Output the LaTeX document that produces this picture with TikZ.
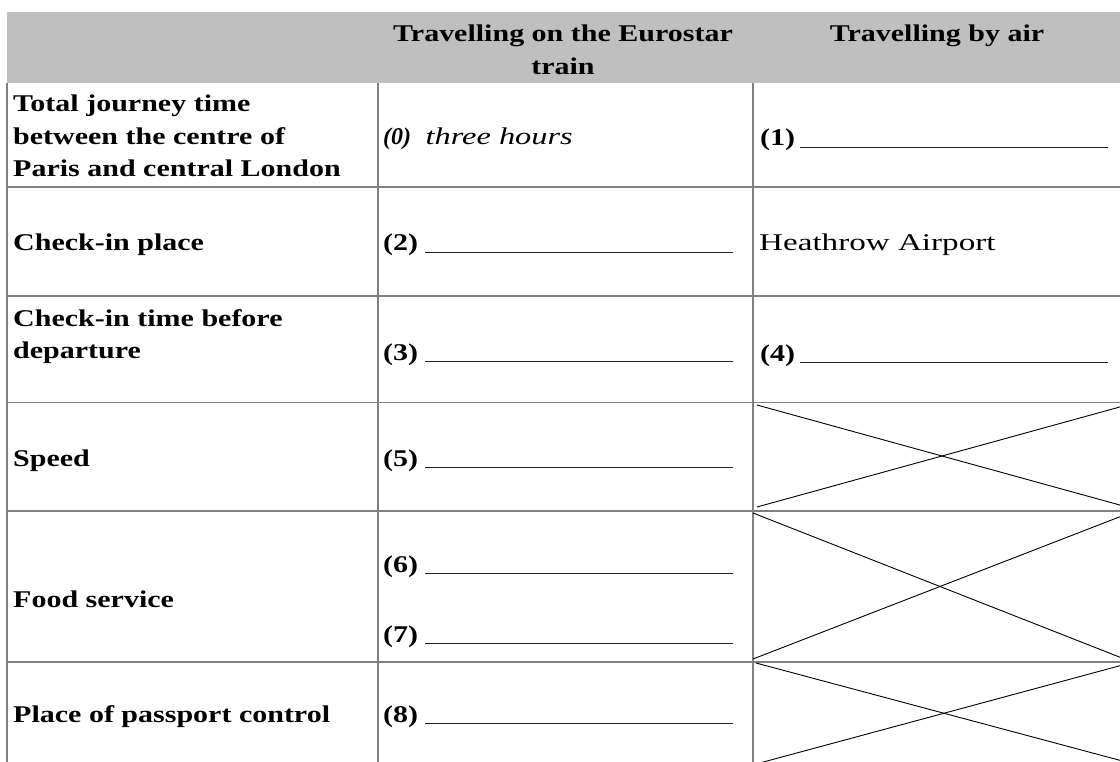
\documentclass[tikz,border=0pt]{standalone}
\usepackage{fontspec}
\setmainfont{Liberation Serif}[
    UprightFeatures={FakeStretch=1.38},
    BoldFeatures={FakeStretch=1.25},
    ItalicFeatures={FakeStretch=1.35}]
\usepackage{tikz}
\usetikzlibrary{positioning}
\definecolor{headgray}{RGB}{191,191,191}
\definecolor{rulegray}{RGB}{128,128,128}

\begin{document}
\begin{tikzpicture}[
    x=1pt, y=-1pt,
    every node/.style={inner sep=0pt},
    % Node styles
    txt/.style={font=\fontsize{24}{32.5}\selectfont},
    rowlbl/.style={txt, anchor=base west, align=left, font=\fontsize{24}{32.5}\selectfont\bfseries},
    colhead/.style={txt, anchor=base, align=center, font=\fontsize{24}{32.5}\selectfont\bfseries},
    num/.style={txt, anchor=base west, font=\fontsize{24}{32.5}\selectfont\bfseries},
    blank/.style={line width=1.1pt, black!85},
    rule/.style={draw=rulegray, line width=1.5pt},
    cross/.style={line width=0.9pt, black},
]
\useasboundingbox (0,0) rectangle (1120,762);
\clip (0,0) rectangle (1120,762);

% ============================================================================
% HEADER ROW
% ============================================================================
\fill[headgray] (7,12) rectangle (1120,83.5);
\node[colhead] (hEuro) at (563,74.5) {Travelling on the Eurostar\\train};
\node[colhead] (hAir) at (937,42) {Travelling by air};

% Table rules
\draw[rule] (7,83.5) -- (7,762);
\draw[rule] (378,83.5) -- (378,762);
\draw[rule] (753,83.5) -- (753,762);
\foreach \y in {187, 296, 402.5, 511, 662} {
    \draw[rule] (7,\y) -- (1120,\y);
}

% ============================================================================
% FIRST COLUMN: ROW LABELS
% ============================================================================
\node[rowlbl] (rTotal) at (13,177) {Total journey time\\between the centre of\\Paris and central London};
\node[rowlbl] (rPlace) at (13,251) {Check-in place};
\node[rowlbl] (rTime) at (13,359) {Check-in time before\\departure};
\node[rowlbl] (rSpeed) at (13,466) {Speed};
\node[rowlbl] (rFood) at (13,607) {Food service};
\node[rowlbl] (rPass) at (13,722) {Place of passport control};

% ============================================================================
% EUROSTAR COLUMN
% ============================================================================
\node[num, font=\fontsize{24}{32.5}\selectfont\bfseries\itshape] (n0) at (383,145) {(0)};
\node[txt, font=\fontsize{24}{32.5}\selectfont\itshape, right=14pt of n0.base east, anchor=base west] (ans0) {three hours};

% Answer blanks
\foreach \n/\y in {2/251, 3/360, 5/466, 6/572, 7/642, 8/722} {
    \node[num] (n\n) at (383,\y) {(\n)};
    \draw[blank] (425,\y+1.5) -- (733,\y+1.5);
}

% ============================================================================
% AIR COLUMN
% ============================================================================
\foreach \n/\y in {1/146, 4/361} {
    \node[num] (n\n) at (760,\y) {(\n)};
    \draw[blank] (800,\y+1.5) -- (1108,\y+1.5);
}
\node[txt, anchor=base west] (heath) at (759,251) {Heathrow Airport};

% Crossed-out cells
\draw[cross] (757,405) -- (1127,507);
\draw[cross] (757,507) -- (1127,405);
\draw[cross] (753,513) -- (1127,660);
\draw[cross] (753,659) -- (1127,514);
\draw[cross] (756,663) -- (1130,763);
\draw[cross] (756,764) -- (1130,663);

\end{tikzpicture}
\end{document}
